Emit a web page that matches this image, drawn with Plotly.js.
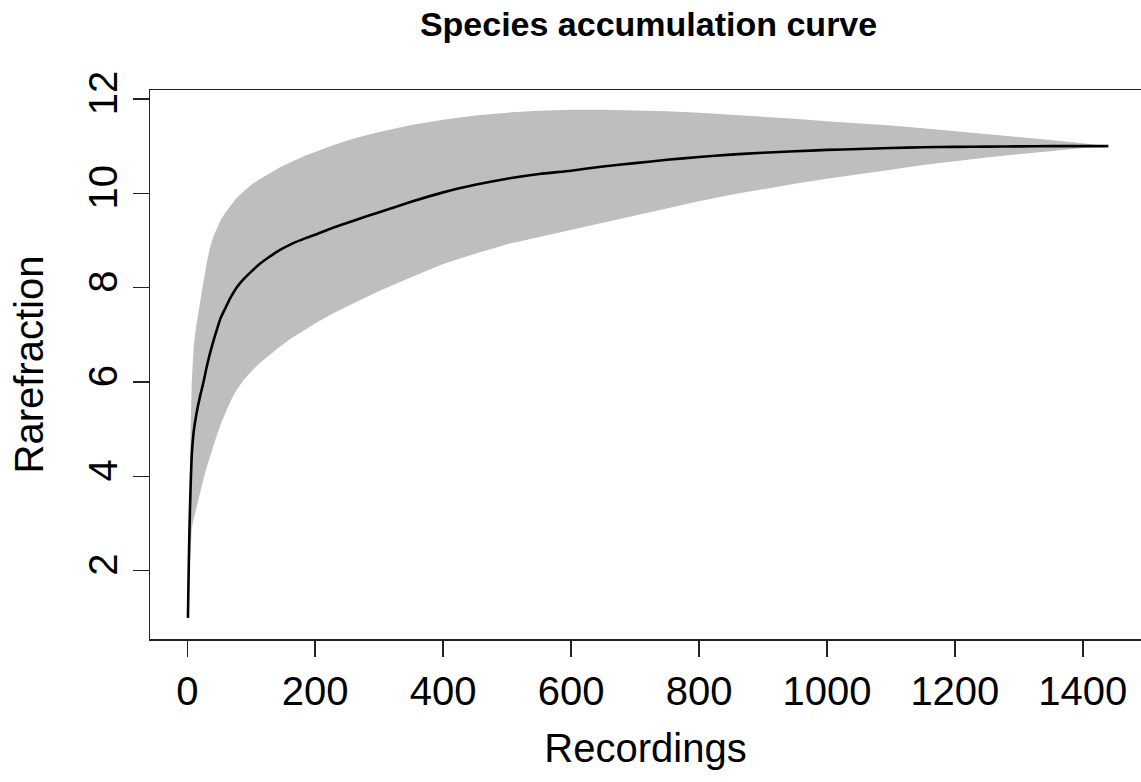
<!DOCTYPE html>
<html>
<head>
<meta charset="utf-8">
<script src="https://cdn.plot.ly/plotly-3.0.1.min.js"></script>
<style>
html,body{margin:0;padding:0;background:#fff;overflow:hidden;}
#chart{width:1141px;height:782px;}
</style>
</head>
<body>
<div id="chart"></div>
<script>
const recordings = [1,2,3,4,5,7,10,14,20,25,30,35,40,46,52,60,68,77,88,100,113,128,145,165,185,205,230,260,300,350,400,450,500,550,600,650,700,750,800,850,900,950,1000,1050,1100,1150,1200,1250,1300,1350,1400,1440];
const richness   = [1,1.85,2.6,3.2,3.7,4.45,4.95,5.3,5.7,5.98,6.3,6.58,6.83,7.1,7.35,7.58,7.8,8.0,8.18,8.34,8.5,8.65,8.8,8.94,9.05,9.15,9.28,9.42,9.6,9.82,10.02,10.18,10.31,10.41,10.48,10.57,10.64,10.71,10.77,10.82,10.86,10.89,10.92,10.94,10.96,10.975,10.985,10.99,10.995,11.0,11.0,11.0];
const upperBand  = [1,2.3,3.4,4.3,4.9,6.0,6.75,7.2,7.65,8.1,8.5,8.82,9.06,9.26,9.43,9.6,9.75,9.9,10.04,10.18,10.3,10.42,10.55,10.68,10.8,10.9,11.03,11.16,11.3,11.45,11.56,11.65,11.71,11.75,11.77,11.77,11.76,11.74,11.71,11.67,11.62,11.58,11.53,11.49,11.44,11.38,11.32,11.25,11.19,11.13,11.06,11.0];
const lowerBand  = [1,1.4,1.8,2.1,2.5,2.9,3.1,3.35,3.65,3.92,4.18,4.41,4.62,4.86,5.1,5.36,5.6,5.83,6.04,6.22,6.4,6.57,6.75,6.95,7.12,7.28,7.47,7.67,7.93,8.22,8.5,8.72,8.92,9.08,9.22,9.38,9.53,9.68,9.83,9.97,10.09,10.2,10.31,10.41,10.5,10.6,10.68,10.76,10.83,10.9,10.96,11.0];
const xTicks = [0,200,400,600,800,1000,1200,1400];
const yTicks = [2,4,6,8,10,12];

const FONT = 'Liberation Sans, Arial, Helvetica, sans-serif';

const band = {
  x: recordings.concat(recordings.slice().reverse()),
  y: upperBand.concat(lowerBand.slice().reverse()),
  type: 'scatter', mode: 'lines', fill: 'toself',
  fillcolor: '#BEBEBE', line: {width: 0, color: 'rgba(0,0,0,0)'},
  hoverinfo: 'skip'
};
const curve = {
  x: recordings, y: richness, type: 'scatter', mode: 'lines',
  line: {color: '#000', width: 2.6, shape: 'spline', smoothing: 0.6}
};

const layout = {
  width: 1141, height: 782,
  margin: {l: 150, r: 0, t: 90, b: 143},
  paper_bgcolor: '#fff', plot_bgcolor: '#fff',
  showlegend: false,
  font: {family: FONT, color: '#000'},
  title: {
    text: '<b>Species accumulation curve</b>',
    font: {family: FONT, size: 34, color: '#000'},
    xref: 'container', yref: 'container',
    x: 0.5684, xanchor: 'center', y: 1 - 24/782, yanchor: 'middle'
  },
  xaxis: {
    range: [-58.3, 1491],
    tickvals: xTicks, ticktext: xTicks.map(String),
    ticks: 'outside', ticklen: 16, tickwidth: 1.5, tickcolor: '#222',
    showline: true, linecolor: '#222', linewidth: 1.5, mirror: true,
    showgrid: false, zeroline: false,
    tickfont: {family: FONT, size: 40, color: '#000'},
    title: {text: 'Recordings', font: {family: FONT, size: 40, color: '#000'}, standoff: 22}
  },
  yaxis: {
    range: [0.552, 12.19],
    tickvals: yTicks, ticktext: yTicks.map(String),
    tickangle: -90,
    ticks: 'outside', ticklen: 16, tickwidth: 1.5, tickcolor: '#222',
    showline: true, linecolor: '#222', linewidth: 1.5, mirror: false,
    showgrid: false, zeroline: false,
    tickfont: {family: FONT, size: 40, color: '#000'},
    title: {text: 'Rarefraction', font: {family: FONT, size: 40, color: '#000'}, standoff: 24}
  }
};

Plotly.newPlot('chart', [band, curve], layout, {displayModeBar: false, staticPlot: true});
</script>
</body>
</html>
